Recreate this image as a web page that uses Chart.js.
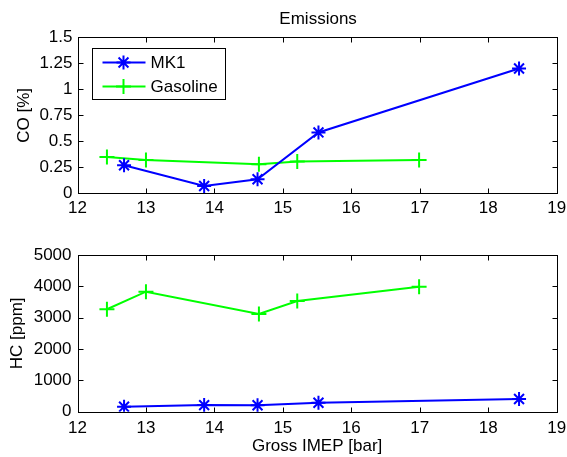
<!DOCTYPE html>
<html>
<head>
<title>Emissions</title>
<script src="https://cdn.jsdelivr.net/npm/chart.js@4.4.2/dist/chart.umd.min.js"></script>
<style>
    html, body {
        margin: 0;
        background: #fff;
    }
    #wrap {
        position: relative;
        width: 567px;
        height: 457px;
    }
    canvas {
        position: absolute;
        left: 0;
        top: 0;
    }
</style>
</head>
<body>
<div id="wrap">
    <canvas id="coChart" width="567" height="457"></canvas>
    <canvas id="hcChart" width="567" height="457"></canvas>
</div>
<script>
    // data
    const imepMK1 = [12.68, 13.85, 14.63, 15.52, 18.45];
    const coMK1 = [0.27, 0.07, 0.135, 0.585, 1.2];
    const hcMK1 = [160, 210, 205, 285, 405];

    const imepGasoline = [12.43, 13.0, 14.65, 15.21, 16.99];
    const coGasoline = [0.35, 0.32, 0.28, 0.305, 0.32];
    const hcGasoline = [3270, 3830, 3120, 3530, 3990];

    const imepTicks = [12, 13, 14, 15, 16, 17, 18, 19];
    const coTicks = [0, 0.25, 0.5, 0.75, 1, 1.25, 1.5];
    const hcTicks = [0, 1000, 2000, 3000, 4000, 5000];

    const FONT = "'Liberation Sans', Arial, sans-serif";
    const BLUE = '#0000ff';
    const GREEN = '#00ff00';

    Chart.defaults.color = '#000';
    Chart.defaults.font.family = FONT;
    Chart.defaults.font.size = 17;

    function pts(xs, ys) {
        return xs.map((v, i) => ({ x: v, y: ys[i] }));
    }

    function series(label, xs, ys, color, marker, r) {
        return {
            label: label,
            data: pts(xs, ys),
            borderColor: color,
            backgroundColor: color,
            borderWidth: 2,
            tension: 0,
            pointStyle: marker,
            pointRadius: r,
            pointBorderWidth: 2,
            pointBorderColor: color,
        };
    }

    // MATLAB like box with inward ticks on all four sides
    const boxTicks = {
        id: 'boxTicks',
        afterDatasetsDraw(chart) {
            const { ctx, chartArea: a, scales } = chart;
            const L = Math.round(a.left) + 0.5, R = Math.round(a.right) + 0.5;
            const T = Math.round(a.top) + 0.5, B = Math.round(a.bottom) + 0.5;
            const len = 5;
            ctx.save();
            ctx.strokeStyle = '#000';
            ctx.lineWidth = 1;
            ctx.beginPath();
            scales.x.ticks.forEach(t => {
                const px = Math.round(scales.x.getPixelForValue(t.value)) + 0.5;
                ctx.moveTo(px, B); ctx.lineTo(px, B - len);
                ctx.moveTo(px, T); ctx.lineTo(px, T + len);
            });
            scales.y.ticks.forEach(t => {
                const py = Math.round(scales.y.getPixelForValue(t.value)) + 0.5;
                ctx.moveTo(L, py); ctx.lineTo(L + len, py);
                ctx.moveTo(R, py); ctx.lineTo(R - len, py);
            });
            ctx.stroke();
            ctx.strokeRect(L, T, R - L, B - T);
            ctx.restore();
        }
    };

    function drawMarker(ctx, style, x, y, r) {
        ctx.beginPath();
        ctx.moveTo(x - r, y); ctx.lineTo(x + r, y);
        ctx.moveTo(x, y - r); ctx.lineTo(x, y + r);
        if (style === 'star') {
            const d = r * Math.SQRT1_2;
            ctx.moveTo(x - d, y - d); ctx.lineTo(x + d, y + d);
            ctx.moveTo(x - d, y + d); ctx.lineTo(x + d, y - d);
        }
        ctx.stroke();
    }

    // title and legend box for the upper axes
    const topDecor = {
        id: 'topDecor',
        afterDraw(chart) {
            const { ctx, chartArea: a } = chart;
            ctx.save();
            ctx.fillStyle = '#000';
            ctx.font = '17px ' + FONT;
            ctx.textAlign = 'center';
            ctx.textBaseline = 'middle';
            ctx.fillText('Emissions', (a.left + a.right) / 2 + 1, 19);

            const bx = Math.round(a.left) + 14.5, by = Math.round(a.top) + 11.5;
            const bw = 133, bh = 51;
            ctx.fillStyle = '#fff';
            ctx.fillRect(bx, by, bw, bh);
            ctx.strokeStyle = '#000';
            ctx.lineWidth = 1;
            ctx.strokeRect(bx, by, bw, bh);

            ctx.textAlign = 'left';
            ctx.font = '17px ' + FONT;
            chart.data.datasets.forEach((ds, i) => {
                const ry = by + 14 + i * 24;
                ctx.strokeStyle = ds.borderColor;
                ctx.lineWidth = 2;
                ctx.beginPath();
                ctx.moveTo(bx + 10, ry); ctx.lineTo(bx + 53, ry);
                ctx.stroke();
                drawMarker(ctx, ds.pointStyle, bx + 31, ry, ds.pointRadius);
                ctx.fillStyle = '#000';
                ctx.fillText(ds.label, bx + 58, ry + 1);
            });
            ctx.restore();
        }
    };

    function makeChart(id, datasets, yTicks, yTitle, yMax, opts) {
        return new Chart(document.getElementById(id), {
            type: 'line',
            data: { datasets: datasets },
            plugins: opts.plugins,
            options: {
                responsive: false,
                animation: false,
                layout: { padding: opts.padding },
                plugins: {
                    legend: { display: false },
                    tooltip: { enabled: false },
                },
                scales: {
                    x: {
                        type: 'linear',
                        min: 12,
                        max: 19,
                        grid: { display: false, drawTicks: false },
                        border: { display: false },
                        afterBuildTicks: s => { s.ticks = imepTicks.map(v => ({ value: v })); },
                        ticks: { padding: opts.xPad, maxRotation: 0, callback: v => String(v) },
                        title: opts.xTitle,
                        afterFit: s => {
                            s.height = opts.xHeight;
                            s.paddingLeft = 0;
                            s.paddingRight = 0;
                        },
                    },
                    y: {
                        min: 0,
                        max: yMax,
                        grid: { display: false, drawTicks: false },
                        border: { display: false },
                        afterBuildTicks: s => { s.ticks = yTicks.map(v => ({ value: v })); },
                        ticks: { padding: opts.yPad, callback: v => String(v) },
                        title: { display: true, text: yTitle, padding: { top: opts.yTitlePad, bottom: 0 } },
                        afterFit: s => {
                            s.width = 77.5;
                            s.paddingTop = 0;
                            s.paddingBottom = 0;
                        },
                    },
                },
            },
        });
    }

    makeChart('coChart', [
        series('MK1', imepMK1, coMK1, BLUE, 'star', 7),
        series('Gasoline', imepGasoline, coGasoline, GREEN, 'cross', 7.5),
    ], coTicks, 'CO [%]', 1.5, {
        padding: { top: 37.3, left: 0, right: 10.3, bottom: 233.7 },
        xHeight: 30,
        xPad: 5,
        yPad: 5,
        yTitlePad: 14,
        xTitle: { display: false },
        plugins: [boxTicks, topDecor],
    });

    makeChart('hcChart', [
        series('MK1', imepMK1, hcMK1, BLUE, 'star', 7),
        series('Gasoline', imepGasoline, hcGasoline, GREEN, 'cross', 7.5),
    ], hcTicks, 'HC [ppm]', 5000, {
        padding: { top: 255, left: 0, right: 10.3, bottom: 0 },
        xHeight: 45.3,
        xPad: 6,
        yPad: 6,
        yTitlePad: 7.6,
        xTitle: { display: true, text: 'Gross IMEP [bar]', padding: { top: 0, bottom: 0 } },
        plugins: [boxTicks],
    });
</script>
</body>
</html>
